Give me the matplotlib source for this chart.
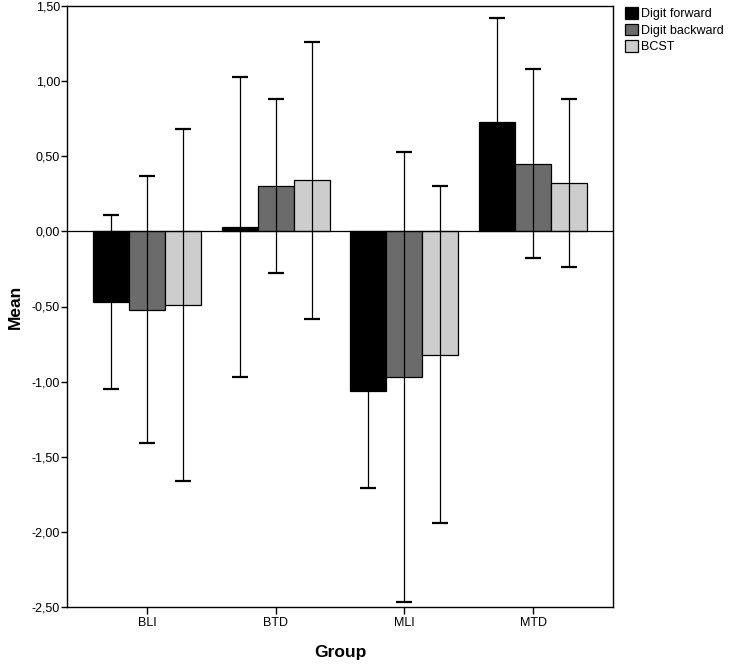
import numpy as np
import matplotlib
matplotlib.use("Agg")
import matplotlib.pyplot as plt

plt.rcParams['font.family'] = ['Liberation Sans', 'DejaVu Sans']

## data (means and half-width of the error bars)
groups = ['BLI', 'BTD', 'MLI', 'MTD']
series = ['Digit forward', 'Digit backward', 'BCST']
means = {
    'Digit forward': [-0.47, 0.03, -1.06, 0.73],
    'Digit backward': [-0.52, 0.30, -0.97, 0.45],
    'BCST': [-0.49, 0.34, -0.82, 0.32],
}
errors = {
    'Digit forward': [0.58, 1.00, 0.65, 0.69],
    'Digit backward': [0.89, 0.58, 1.50, 0.63],
    'BCST': [1.17, 0.92, 1.12, 0.56],
}
colors = ['#000000', '#6b6b6b', '#cdcdcd']
y_ticks = [1.5, 1.0, 0.5, 0.0, -0.5, -1.0, -1.5, -2.0, -2.5]

fig = plt.figure(figsize=(7.29, 6.64), dpi=100)
ax = fig.add_axes([67 / 729, 57 / 664, 546 / 729, 601 / 664])

x = np.arange(len(groups))
width = 0.28
for i, name in enumerate(series):
    pos = x + (i - 1) * width
    ax.bar(pos, means[name], width, color=colors[i], edgecolor='black', linewidth=0.9,
           label=name, zorder=2)
    ## error bars in pure black so the parts inside the black bars disappear
    ax.errorbar(pos, means[name], yerr=errors[name], fmt='none', ecolor='black',
                elinewidth=0.9, capsize=6, capthick=1.6, zorder=3)

ax.axhline(0, color='black', linewidth=0.9, zorder=4)

ax.set_xlim(-0.62, 3.62)
ax.set_ylim(-2.5, 1.5)
ax.set_xticks(x)
ax.set_xticklabels(groups, fontsize=9)
ax.set_yticks(y_ticks)
ax.set_yticklabels([('%.2f' % v).replace('.', ',') for v in y_ticks], fontsize=9)
ax.tick_params(axis='y', length=4, width=1, pad=1)
ax.tick_params(axis='x', length=5, width=1, pad=2)
for s in ax.spines.values():
    s.set_linewidth(1)

ax.set_xlabel('Group', fontsize=12.5, fontweight='bold', labelpad=12)
ax.set_ylabel('Mean', fontsize=12.5, fontweight='bold', labelpad=6)

fig.legend(loc='upper left', bbox_to_anchor=(625 / 729, 657 / 664), frameon=False,
           fontsize=9, handlelength=1.05, handleheight=1.05, handletextpad=0.25,
           labelspacing=0.28, borderpad=0, borderaxespad=0)

fig.savefig('out.png', dpi=100)
